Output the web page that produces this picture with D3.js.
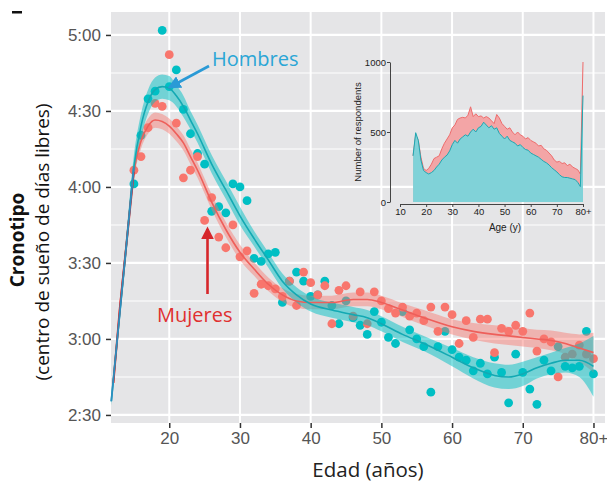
<!DOCTYPE html>
<html><head><meta charset="utf-8">
<script src="https://cdn.jsdelivr.net/npm/d3@7/dist/d3.min.js"></script>
<style>body{margin:0;background:#fff;} svg{display:block;}</style>
</head><body>
<svg id="chart" width="607" height="484"></svg>
<script>
// ---------- DATA ----------
const ages = [15,16,17,18,19,20,21,22,23,24,25,26,27,28,29,30,31,32,33,34,35,36,37,38,39,40,41,42,43,44,45,46,47,48,49,50,51,52,53,54,55,56,57,58,59,60,61,62,63,64,65,66,67,68,69,70,71,72,73,74,75,76,77,78,79,80];
// chronotype (mid-sleep on free days), decimal hours
const menChrono = [4.02,4.34,4.58,4.63,5.03,4.66,4.77,4.51,4.35,4.22,4.15,3.84,3.87,3.83,4.02,4.00,3.91,3.53,3.51,3.56,3.57,3.24,3.38,3.44,3.38,3.28,3.29,3.38,3.22,3.10,3.25,3.14,3.09,3.03,3.18,3.11,3.01,2.97,3.18,3.06,3.00,2.95,2.65,2.95,3.05,2.93,2.88,2.86,2.79,2.84,2.77,2.88,2.78,2.58,2.90,2.78,2.67,2.57,2.86,2.79,2.95,2.82,2.81,2.82,3.05,2.77];
const womenChrono = [4.11,4.20,4.39,4.55,4.53,4.87,4.42,4.06,4.11,4.20,3.78,3.93,3.67,3.60,3.75,3.54,3.58,3.30,3.36,3.35,3.33,3.28,3.38,3.22,3.44,3.37,3.29,3.35,3.10,3.32,3.35,3.15,3.31,3.10,3.31,3.25,3.20,3.17,3.21,3.15,3.17,3.12,3.21,3.05,3.21,3.16,2.97,3.12,3.01,3.13,3.13,2.91,3.07,3.05,3.09,3.05,3.17,2.92,3.00,2.98,2.75,2.88,2.90,2.96,2.90,2.87];
// smoothed fits with confidence half-widths
const fitAgesMen = [11.8,13,14,15,16,17,18,19,20,21,22,23,24,26,28,30,32,34,36,38,40,43,46,48,50,53,56,60,63,66,68,70,72,74,76,78,80];
const fitMen = [2.59,3.17,3.65,4.13,4.40,4.56,4.64,4.66,4.65,4.60,4.53,4.44,4.35,4.15,3.98,3.81,3.66,3.52,3.38,3.29,3.23,3.19,3.16,3.14,3.10,3.03,2.97,2.88,2.81,2.76,2.75,2.77,2.81,2.84,2.86,2.86,2.82];
const seMen = [0.03,0.05,0.07,0.08,0.08,0.08,0.08,0.08,0.08,0.07,0.07,0.06,0.06,0.06,0.06,0.06,0.05,0.05,0.05,0.05,0.05,0.05,0.05,0.05,0.05,0.05,0.05,0.06,0.07,0.08,0.08,0.08,0.07,0.07,0.08,0.11,0.20];
const fitAgesWomen = [12.1,13,14,15,16,17,18,19,20,21,22,23,24,26,28,30,32,34,36,38,40,43,46,48,50,53,56,60,63,66,68,70,72,74,76,78,80];
const fitWomen = [2.71,3.20,3.65,4.10,4.30,4.40,4.44,4.43,4.40,4.35,4.29,4.20,4.11,3.90,3.72,3.57,3.46,3.36,3.29,3.25,3.24,3.24,3.26,3.26,3.24,3.19,3.14,3.08,3.05,3.03,3.02,3.01,3.00,2.99,2.97,2.94,2.91];
const seWomen = [0.03,0.04,0.05,0.05,0.05,0.05,0.05,0.05,0.05,0.05,0.05,0.05,0.05,0.05,0.05,0.05,0.045,0.045,0.045,0.045,0.045,0.045,0.045,0.045,0.045,0.045,0.05,0.05,0.055,0.06,0.06,0.06,0.06,0.065,0.07,0.09,0.13];
// axis ticks
const yTicks = [5, 4.5, 4, 3.5, 3, 2.5];
const yTickLabels = ["5:00","4:30","4:00","3:30","3:00","2:30"];
const yMinor = [4.75, 4.25, 3.75, 3.25, 2.75];
const xTicks = [20,30,40,50,60,70,80];
const xTickLabels = ["20","30","40","50","60","70","80+"];
// inset: number of respondents per age
const insetMen = [330,495,440,300,225,210,200,210,225,250,270,300,320,335,365,410,440,420,450,465,480,470,500,520,500,530,540,570,550,530,545,520,530,490,470,450,470,440,430,420,400,410,390,375,370,350,340,330,320,305,290,280,265,245,230,215,195,180,175,175,170,165,160,140,110,760];
const insetWomen = [330,480,440,320,240,225,240,270,310,320,330,380,420,450,480,530,550,590,600,605,600,620,680,610,630,610,615,600,610,600,580,560,625,600,560,540,520,530,500,480,500,480,470,450,460,440,430,420,400,405,380,370,350,330,300,285,290,275,280,260,270,250,240,230,200,1000];
const insetXTicks = [10,20,30,40,50,60,70,80];
const insetXLabels = ["10","20","30","40","50","60","70","80+"];
const insetYTicks = [0,500,1000];

// ---------- LAYOUT ----------
const svg = d3.select("#chart");
const P = {l:111, r:605, t:12, b:423};
const x = d3.scaleLinear().domain([11.76, 81.63]).range([P.l, P.r]);
const y = d3.scaleLinear().domain([2.447, 5.151]).range([P.b, P.t]);
const TEAL = "#00BFC4", RED = "#F8766D";
const tickFont = "'Liberation Sans', Arial, sans-serif";
const titleFont = "'Open Sans', sans-serif";

// panel
svg.append("rect").attr("x",P.l).attr("y",P.t).attr("width",P.r-P.l).attr("height",P.b-P.t).attr("fill","#e5e5e7");
// grid
svg.selectAll(".ymin").data(yMinor).join("line")
  .attr("x1",P.l).attr("x2",P.r).attr("y1",d=>y(d)).attr("y2",d=>y(d))
  .attr("stroke","#fff").attr("stroke-width",1.1);
svg.selectAll(".ymaj").data(yTicks).join("line")
  .attr("x1",P.l).attr("x2",P.r).attr("y1",d=>y(d)).attr("y2",d=>y(d))
  .attr("stroke","#fff").attr("stroke-width",2.2);
svg.selectAll(".xmaj").data(xTicks).join("line")
  .attr("x1",d=>x(d)).attr("x2",d=>x(d)).attr("y1",P.t).attr("y2",P.b)
  .attr("stroke","#fff").attr("stroke-width",2);

// axes
const yAxis = d3.axisLeft(y).tickValues(yTicks).tickFormat((d,i)=>yTickLabels[i]).tickSize(5).tickPadding(5);
const gy = svg.append("g").attr("transform",`translate(${P.l},0)`).call(yAxis);
gy.select(".domain").remove();
gy.selectAll("line").attr("stroke","#333").attr("stroke-width",1.5);
gy.selectAll("text").attr("font-family",tickFont).attr("font-size",17).attr("fill","#555");
const xAxis = d3.axisBottom(x).tickValues(xTicks).tickFormat((d,i)=>xTickLabels[i]).tickSize(5).tickPadding(4);
const gx = svg.append("g").attr("transform",`translate(0,${P.b})`).call(xAxis);
gx.select(".domain").remove();
gx.selectAll("line").attr("stroke","#333").attr("stroke-width",1.5);
gx.selectAll("text").attr("font-family",tickFont).attr("font-size",17).attr("fill","#555");

// titles
svg.append("text").attr("transform","translate(24,240) rotate(-90)").attr("text-anchor","middle")
  .attr("font-family",titleFont).attr("font-weight","bold").attr("font-size",19).attr("fill","#111").text("Cronotipo");
svg.append("text").attr("transform","translate(49,242) rotate(-90)").attr("text-anchor","middle")
  .attr("font-family",titleFont).attr("font-size",19).attr("fill","#111").text("(centro de sueño de días libres)");
svg.append("text").attr("x",368).attr("y",477).attr("text-anchor","middle")
  .attr("font-family",titleFont).attr("font-size",20.5).attr("fill","#222").text("Edad (años)");
svg.append("rect").attr("x",12).attr("y",11).attr("width",10).attr("height",2.5).attr("fill","#111");

// inset
const IX = d3.scaleLinear().domain([10,80]).range([400,583]);
const IY = d3.scaleLinear().domain([0,1000]).range([202,62]);
const areaW = d3.area().x((d,i)=>IX(ages[i])).y0(IY(0)).y1(d=>IY(d));
const lineI = d3.line().x((d,i)=>IX(ages[i])).y(d=>IY(d));
svg.append("path").datum(insetWomen).attr("d",areaW).attr("fill","#f3a5a6");
svg.append("path").datum(insetWomen).attr("d",lineI).attr("fill","none").attr("stroke","#ee6c6c").attr("stroke-width",1);
svg.append("path").datum(insetMen).attr("d",areaW).attr("fill","#80d2d8");
svg.append("path").datum(insetMen).attr("d",lineI).attr("fill","none").attr("stroke","#1ea8b2").attr("stroke-width",1);
const iy = svg.append("g").attr("transform","translate(390,0)").call(d3.axisLeft(IY).tickValues(insetYTicks).tickFormat(d3.format("d")).tickSize(3).tickPadding(1).tickSizeOuter(0));
iy.select(".domain").attr("stroke","#444");
iy.selectAll("line").attr("stroke","#444");
iy.selectAll("text").attr("font-family",tickFont).attr("font-size",9.5).attr("fill","#222");
const ix = svg.append("g").attr("transform","translate(0,204)").call(d3.axisBottom(IX).tickValues(insetXTicks).tickFormat((d,i)=>insetXLabels[i]).tickSize(3).tickPadding(1).tickSizeOuter(0));
ix.select(".domain").attr("stroke","#444");
ix.selectAll("line").attr("stroke","#444");
ix.selectAll("text").attr("font-family",tickFont).attr("font-size",9.5).attr("fill","#222");
svg.append("text").attr("transform","translate(361,132) rotate(-90)").attr("text-anchor","middle")
  .attr("font-family",tickFont).attr("font-size",9.5).attr("fill","#222").text("Number of respondents");
svg.append("text").attr("x",505).attr("y",231).attr("text-anchor","middle")
  .attr("font-family",tickFont).attr("font-size",10).attr("fill","#222").text("Age (y)");

// points
const pts = svg.append("g");
pts.selectAll(".pm").data(menChrono).join("circle")
  .attr("cx",(d,i)=>x(ages[i])).attr("cy",d=>y(d)).attr("r",4.4).attr("fill",TEAL);
pts.selectAll(".pw").data(womenChrono).join("circle")
  .attr("cx",(d,i)=>x(ages[i])).attr("cy",d=>y(d)).attr("r",4.4).attr("fill",RED);

// bands and fits
function band(ax, fit, se, color, op){
  const a = d3.area().curve(d3.curveMonotoneX).x((d,i)=>x(ax[i])).y0((d,i)=>y(fit[i]-se[i])).y1((d,i)=>y(fit[i]+se[i]));
  svg.append("path").datum(fit).attr("d",a).attr("fill",color).attr("opacity",op);
}
function fitLine(ax, fit, color){
  const l = d3.line().curve(d3.curveMonotoneX).x((d,i)=>x(ax[i])).y(d=>y(d));
  svg.append("path").datum(fit).attr("d",l).attr("fill","none").attr("stroke",color).attr("stroke-width",1.6);
}
band(fitAgesWomen, fitWomen, seWomen, RED, 0.45);
band(fitAgesMen, fitMen, seMen, TEAL, 0.5);
fitLine(fitAgesWomen, fitWomen, "#ee5f5a");
fitLine(fitAgesMen, fitMen, "#13a9b3");
// early-age segments drawn in darker tone (as in reference)
svg.append("path").datum(fitWomen.slice(0,4)).attr("d", d3.line().x((d,i)=>x(fitAgesWomen[i])).y(d=>y(d)))
  .attr("fill","none").attr("stroke","#e02a2a").attr("stroke-width",2);
svg.append("path").datum(fitMen.slice(0,4)).attr("d", d3.line().x((d,i)=>x(fitAgesMen[i])).y(d=>y(d)))
  .attr("fill","none").attr("stroke","#2b8fc0").attr("stroke-width",1.8);

// annotations
const defs = svg.append("defs");
function marker(id,color){
  defs.append("marker").attr("id",id).attr("viewBox","0 0 10 10").attr("refX",8).attr("refY",5)
    .attr("markerWidth",5).attr("markerHeight",5).attr("orient","auto")
    .append("path").attr("d","M0,0 L10,5 L0,10 z").attr("fill",color);
}
marker("ab","#2a9ad6"); marker("ar","#d6262b");
svg.append("line").attr("x1",209).attr("y1",66).attr("x2",170).attr("y2",87)
  .attr("stroke","#2a9ad6").attr("stroke-width",2.6).attr("marker-end","url(#ab)");
svg.append("text").attr("x",212).attr("y",66).attr("font-family",titleFont).attr("font-size",20)
  .attr("fill","#2aa6d6").text("Hombres");
svg.append("line").attr("x1",207.5).attr("y1",294).attr("x2",207.5).attr("y2",229)
  .attr("stroke","#d6262b").attr("stroke-width",2.6).attr("marker-end","url(#ar)");
svg.append("text").attr("x",157).attr("y",322).attr("font-family",titleFont).attr("font-size",20)
  .attr("fill","#e0302f").text("Mujeres");
</script>
</body></html>
